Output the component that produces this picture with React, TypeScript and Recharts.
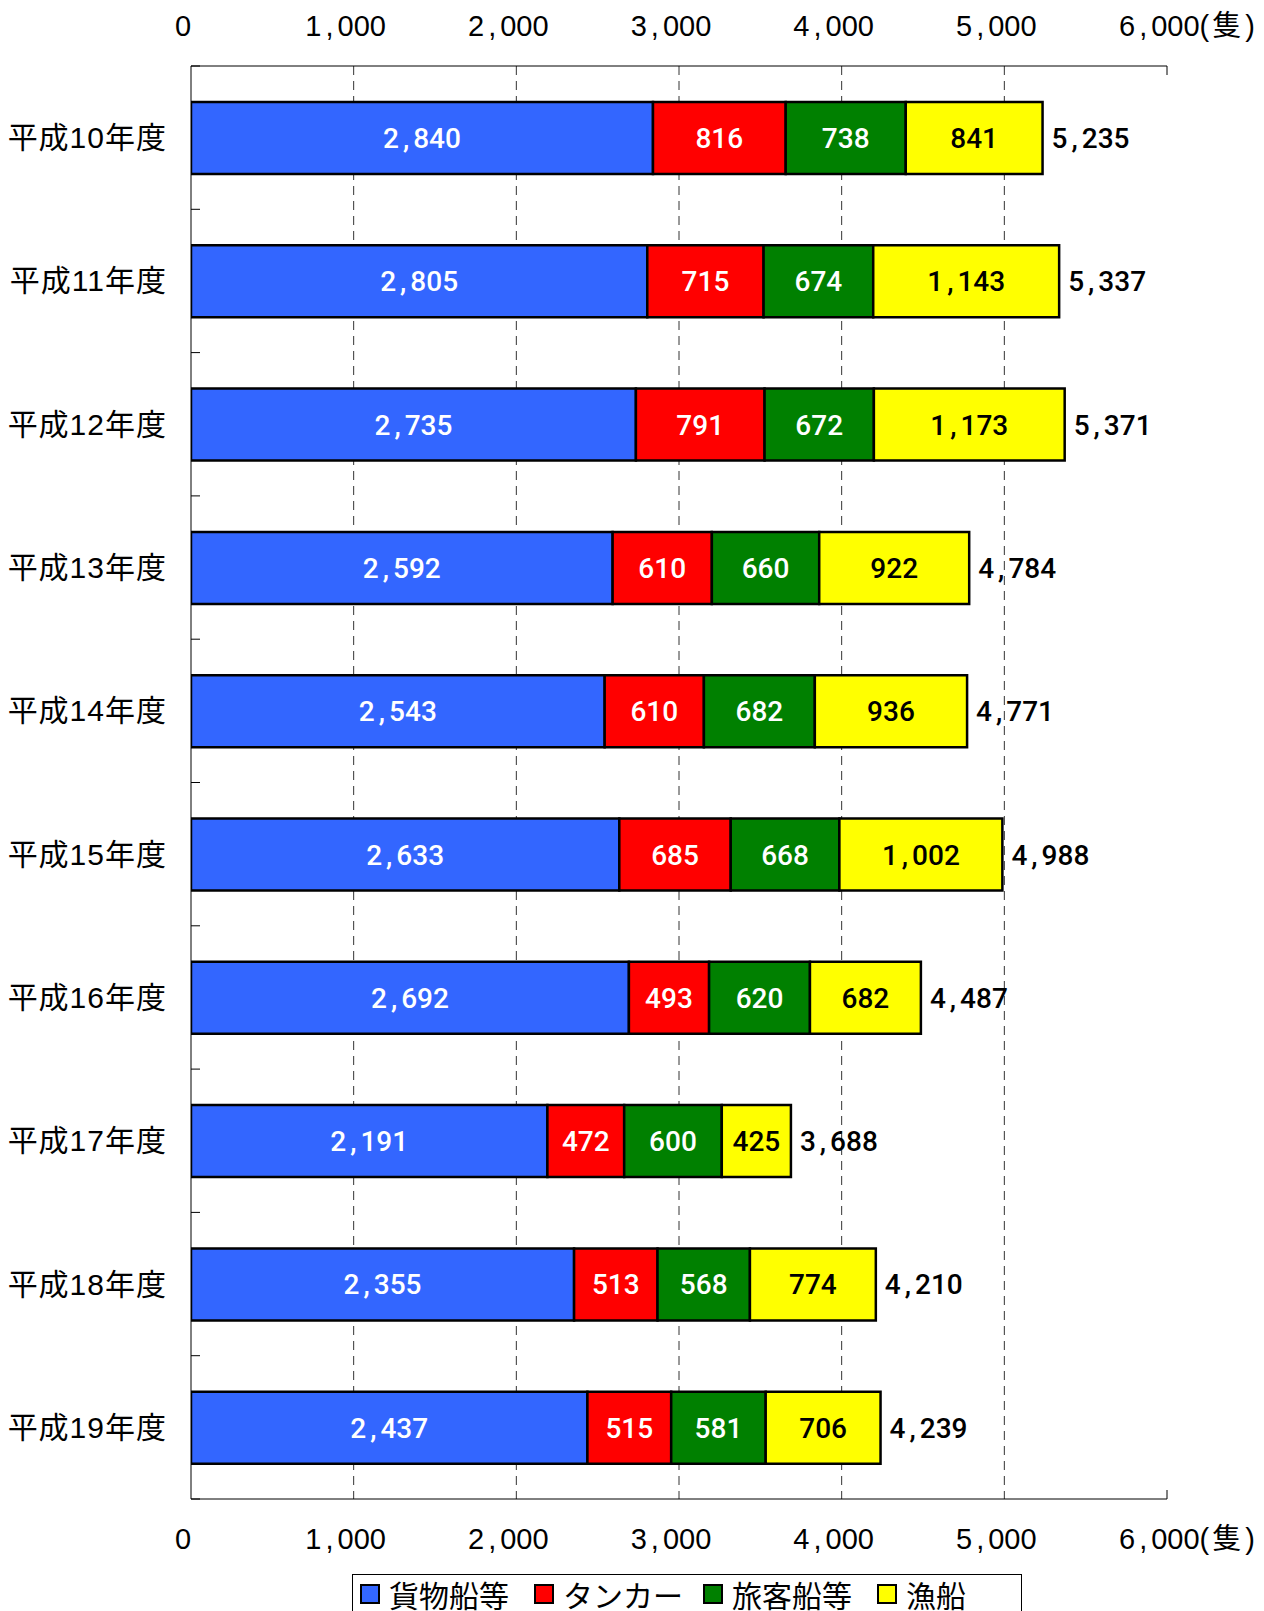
import React from 'react';
import { BarChart, Bar, XAxis, YAxis, CartesianGrid, LabelList, Legend } from 'recharts';

// 年度別の船舶数(隻)
const categories = ['平成10年度', '平成11年度', '平成12年度', '平成13年度', '平成14年度', '平成15年度', '平成16年度', '平成17年度', '平成18年度', '平成19年度'];
const cargo = [2840, 2805, 2735, 2592, 2543, 2633, 2692, 2191, 2355, 2437];
const tanker = [816, 715, 791, 610, 610, 685, 493, 472, 513, 515];
const passenger = [738, 674, 672, 660, 682, 668, 620, 600, 568, 581];
const fishing = [841, 1143, 1173, 922, 936, 1002, 682, 425, 774, 706];
const totals = [5235, 5337, 5371, 4784, 4771, 4988, 4487, 3688, 4210, 4239];
const xTicks = [0, 1000, 2000, 3000, 4000, 5000, 6000];
const gridTicks = [1000, 2000, 3000, 4000, 5000];

const series = [
  { key: '貨物船等', color: '#3366FF', text: '#ffffff' },
  { key: 'タンカー', color: '#FF0000', text: '#ffffff' },
  { key: '旅客船等', color: '#008000', text: '#ffffff' },
  { key: '漁船', color: '#FFFF00', text: '#000000' },
];

const data = categories.map((name, i) => ({
  name,
  '貨物船等': cargo[i],
  'タンカー': tanker[i],
  '旅客船等': passenger[i],
  '漁船': fishing[i],
  total: totals[i],
}));

const W = 1264;
const H = 1611;
const PLOT_LEFT = 191;
const PLOT_RIGHT = 1167;
const PLOT_TOP = 66;
const PLOT_BOTTOM = 1499;
const X_MAX = 6000;
const BAND = (PLOT_BOTTOM - PLOT_TOP) / categories.length;

const NUM_FONT = "'Liberation Sans', 'Noto Sans CJK JP', sans-serif";
const LABEL_FONT = "Roboto, 'Liberation Sans', sans-serif";
const JP_FONT = "'Noto Sans CJK JP', sans-serif";

const fmt = (v: any) => Number(v).toLocaleString('en-US');

// 桁区切りのカンマを少し広めに取る
const NumText = ({ x, y, value, anchor = 'middle', fill = '#000', size = 28, family = NUM_FONT, weight = 400, unit = false }: any) => {
  const parts = fmt(value).split(',');
  return (
    <text x={x} y={y} textAnchor={anchor} dominantBaseline="central" fontSize={size} fontFamily={family} fontWeight={weight} fill={fill}>
      {parts.map((p: string, i: number) => (
        <React.Fragment key={i}>
          {i > 0 && <tspan dx={4}>,</tspan>}
          <tspan dx={i > 0 ? 4 : 0}>{p}</tspan>
        </React.Fragment>
      ))}
      {unit && (
        <>
          <tspan>(</tspan>
          <tspan dx={3}>隻</tspan>
          <tspan dx={4}>)</tspan>
        </>
      )}
    </text>
  );
};

const makeXTick = (top: boolean) => (props: any) => {
  const { x, payload } = props;
  const v = payload.value;
  const isLast = v === X_MAX;
  const axisY = top ? PLOT_TOP : PLOT_BOTTOM;
  return (
    <g>
      <NumText
        x={isLast ? x - 48 : x - 8}
        y={top ? 26 : 1539}
        value={v}
        anchor={isLast ? 'start' : 'middle'}
        size={29}
        unit={isLast}
      />
      {isLast && <line x1={x} x2={x} y1={axisY} y2={top ? axisY + 9 : axisY - 9} stroke="#000" strokeWidth={1} />}
    </g>
  );
};

const CategoryTick = (props: any) => {
  const { y, payload, index } = props;
  return (
    <g>
      <text x={167} y={y} textAnchor="end" dominantBaseline="central" fontSize={30} letterSpacing={1} fontFamily={NUM_FONT} fill="#000">
        {payload.value}
      </text>
      {index === 0 && (
        <line x1={PLOT_LEFT} x2={PLOT_LEFT + 9} y1={y - BAND / 2} y2={y - BAND / 2} stroke="#000" />
      )}
      <line x1={PLOT_LEFT} x2={PLOT_LEFT + 9} y1={y + BAND / 2} y2={y + BAND / 2} stroke="#000" />
    </g>
  );
};

const makeInnerLabel = (fill: string) => (p: any) => {
  const vb = p.viewBox || p;
  return (
    <NumText
      x={vb.x + vb.width / 2}
      y={vb.y + vb.height / 2}
      value={p.value}
      fill={fill}
      size={28}
      family={LABEL_FONT}
      weight={500}
    />
  );
};

const TotalLabel = (p: any) => {
  const vb = p.viewBox || p;
  return (
    <NumText
      x={vb.x + vb.width + 9}
      y={vb.y + vb.height / 2}
      value={p.value}
      anchor="start"
      size={28}
      family={LABEL_FONT}
      weight={500}
    />
  );
};

const LegendBox = () => (
  <div
    style={{
      border: '1px solid #000',
      borderBottom: 'none',
      background: '#fff',
      width: 670,
      height: 37,
      boxSizing: 'border-box',
      display: 'flex',
      alignItems: 'flex-end',
      paddingLeft: 7,
      fontFamily: JP_FONT,
      fontSize: 30,
      color: '#000',
      overflow: 'hidden',
    }}
  >
    {series.map((s, i) => (
      <div key={s.key} style={{ display: 'flex', alignItems: 'center', height: 34, marginRight: i === 1 ? 20 : 25 }}>
        <span
          style={{
            display: 'inline-block',
            width: 20,
            height: 20,
            boxSizing: 'border-box',
            border: '2px solid #000',
            background: s.color,
            marginRight: 9,
          }}
        />
        <span style={{ lineHeight: '34px', whiteSpace: 'nowrap' }}>{s.key}</span>
      </div>
    ))}
  </div>
);

export default function App() {
  return (
    <div style={{ position: 'absolute', left: 0, top: 0, width: W, height: H, background: '#fff', overflow: 'hidden' }}>
      <BarChart
        width={W}
        height={H}
        data={data}
        layout="vertical"
        barSize={72}
        margin={{ top: 0, right: W - PLOT_RIGHT, bottom: 0, left: 0 }}
      >
        <CartesianGrid
          xAxisId="bottom"
          horizontal={false}
          verticalValues={gridTicks}
          stroke="#333"
          strokeWidth={1}
          strokeDasharray="9 6"
        />
        <XAxis
          xAxisId="top"
          orientation="top"
          type="number"
          domain={[0, X_MAX]}
          ticks={xTicks}
          allowDataOverflow
          height={PLOT_TOP}
          tickLine={false}
          axisLine={{ stroke: '#000', strokeWidth: 1 }}
          tick={makeXTick(true)}
        />
        <XAxis
          xAxisId="bottom"
          orientation="bottom"
          type="number"
          domain={[0, X_MAX]}
          ticks={xTicks}
          allowDataOverflow
          height={H - PLOT_BOTTOM}
          tickLine={false}
          axisLine={{ stroke: '#000', strokeWidth: 1 }}
          tick={makeXTick(false)}
        />
        <YAxis
          type="category"
          dataKey="name"
          width={PLOT_LEFT}
          tickLine={false}
          axisLine={{ stroke: '#000', strokeWidth: 1 }}
          tick={<CategoryTick />}
          interval={0}
        />
        {series.map((s, i) => (
          <Bar
            key={s.key}
            xAxisId="bottom"
            dataKey={s.key}
            stackId="a"
            fill={s.color}
            stroke="#000"
            strokeWidth={2.5}
            isAnimationActive={false}
          >
            <LabelList dataKey={s.key} content={makeInnerLabel(s.text)} />
            {i === series.length - 1 && <LabelList dataKey="total" content={TotalLabel} />}
          </Bar>
        ))}
        <Legend
          layout="horizontal"
          verticalAlign="middle"
          align="center"
          content={() => <LegendBox />}
          wrapperStyle={{ position: 'absolute', left: 352, top: 1574, width: 'auto', height: 'auto' }}
        />
      </BarChart>
    </div>
  );
}
